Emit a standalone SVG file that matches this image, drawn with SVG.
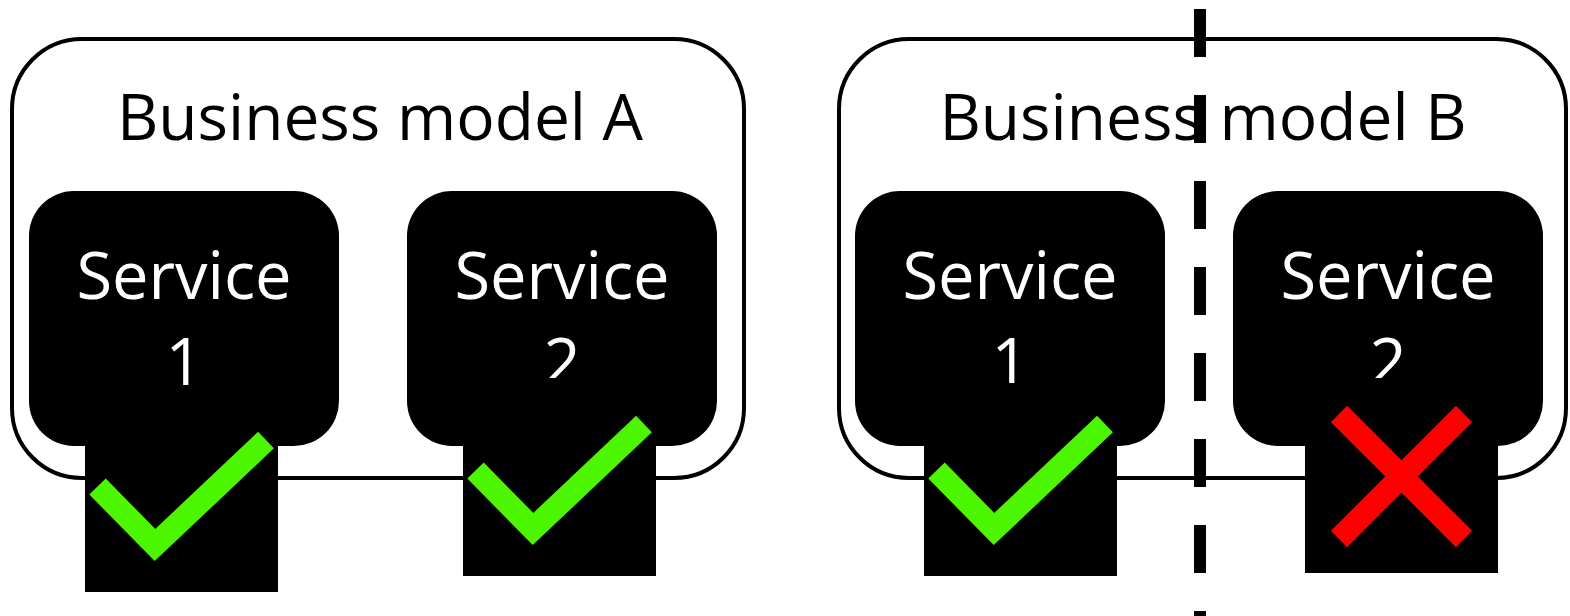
<svg xmlns="http://www.w3.org/2000/svg" width="1570" height="616" viewBox="0 0 1570 616">
<style>
.outer{fill:#fff;stroke:#000;stroke-width:4}
.svc{fill:#000}
.title{font-family:"Open Sans","Liberation Sans",sans-serif;font-size:64px;fill:#000;text-anchor:middle}
.svct{font-family:"Open Sans","Liberation Sans",sans-serif;font-size:65px;fill:#fff;text-anchor:middle}
.badge{fill:#000}
.check{fill:none;stroke:#4cf500;stroke-width:23;stroke-linecap:butt;stroke-linejoin:miter}
.cross{fill:none;stroke:#ff0000;stroke-width:23;stroke-linecap:butt}
.divider{stroke:#000;stroke-width:12;stroke-dasharray:48 38}
</style>
<rect width="1570" height="616" fill="#fff"/>
<g id="model-a">
  <rect class="outer" x="12" y="39" width="732" height="439" rx="70" ry="70"/>
  <text class="title" x="380" y="140">Business model A</text>
</g>
<g id="model-b">
  <rect class="outer" x="839" y="39" width="727" height="439" rx="70" ry="70"/>
  <text class="title" x="1203" y="140">Business model B</text>
</g>
<g id="a-service-1">
  <rect class="svc" x="29" y="191" width="310" height="255" rx="45" ry="45"/>
  <text class="svct" x="184" y="299">Service</text>
  <text class="svct" x="184" y="385">1</text>
</g>
<g id="a-service-2">
  <rect class="svc" x="407" y="191" width="310" height="255" rx="45" ry="45"/>
  <text class="svct" x="562" y="299">Service</text>
  <text class="svct" x="562" y="385">2</text>
</g>
<g id="b-service-1">
  <rect class="svc" x="855" y="191" width="310" height="255" rx="45" ry="45"/>
  <text class="svct" x="1010" y="299">Service</text>
  <text class="svct" x="1010" y="385">1</text>
</g>
<g id="b-service-2">
  <rect class="svc" x="1233" y="191" width="310" height="255" rx="45" ry="45"/>
  <text class="svct" x="1388" y="299">Service</text>
  <text class="svct" x="1388" y="385">2</text>
</g>
<g id="a-check-1" transform="translate(85,399)">
  <rect class="badge" width="193" height="193"/>
  <polyline class="check" points="12.5,87.5 70,146 181,41"/>
</g>
<g id="a-check-2" transform="translate(463,383)">
  <rect class="badge" y="-5" width="193" height="198"/>
  <polyline class="check" points="12.5,87.5 70,146 181,41"/>
</g>
<g id="b-check-1" transform="translate(924,383)">
  <rect class="badge" width="193" height="193"/>
  <polyline class="check" points="12.5,87.5 70,146 181,41"/>
</g>
<g id="b-cross-2" transform="translate(1305,380)">
  <rect class="badge" y="-2" width="193" height="195"/>
  <line class="cross" x1="34" y1="34" x2="159" y2="159"/>
  <line class="cross" x1="159" y1="34" x2="34" y2="159"/>
</g>
<g id="connectors">
  <line class="divider" x1="1200" y1="9" x2="1200" y2="616"/>
</g>
</svg>
